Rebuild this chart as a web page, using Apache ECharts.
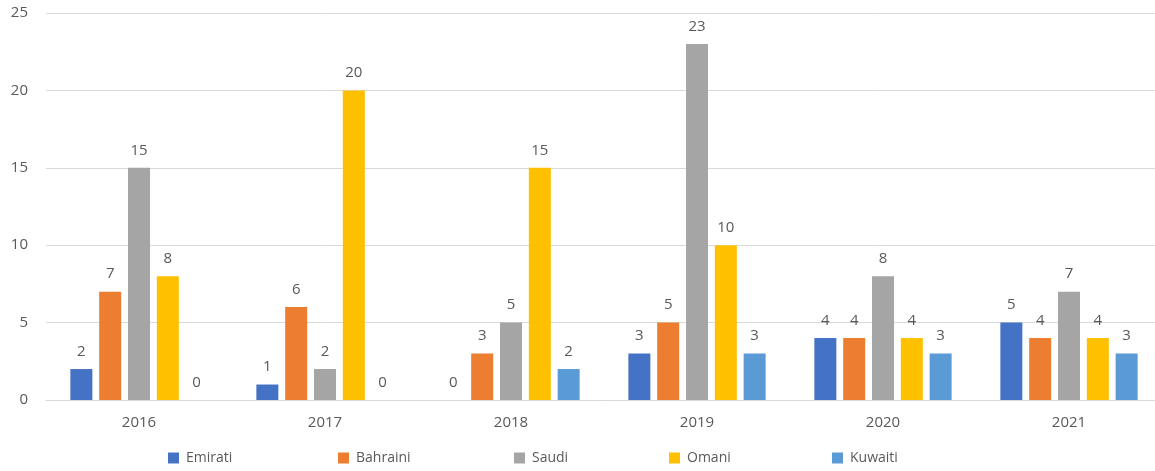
<!DOCTYPE html>
<html>
<head>
<meta charset="utf-8">
<script src="https://cdn.jsdelivr.net/npm/echarts@6/dist/echarts.min.js"></script>
<style>
html,body{margin:0;padding:0;background:#fff;overflow:hidden;}
#chart{width:1155px;height:471px;}
</style>
</head>
<body>
<div id="chart"></div>
<script>
const categories = ['2016', '2017', '2018', '2019', '2020', '2021'];
const seriesNames = ['Emirati', 'Bahraini', 'Saudi', 'Omani', 'Kuwaiti'];
const emirati  = [2, 1, 0, 3, 4, 5];
const bahraini = [7, 6, 3, 5, 4, 4];
const saudi    = [15, 2, 5, 23, 8, 7];
const omani    = [8, 20, 15, 10, 4, 4];
const kuwaiti  = [0, 0, 2, 3, 3, 3];
const yTicks = [0, 5, 10, 15, 20, 25];

const values = [emirati, bahraini, saudi, omani, kuwaiti];
const colors = ['#4472C4', '#ED7D31', '#A5A5A5', '#FFC000', '#5B9BD5'];
const legendLeft = [168, 338, 514, 669, 832];
const FONT = '"Open Sans", "Noto Sans", sans-serif';
const TXT = '#595959';

const chart = echarts.init(document.getElementById('chart'));
chart.setOption({
  animation: false,
  textStyle: { fontFamily: FONT },
  grid: { left: 46, top: 13, width: 1116, height: 387, containLabel: false, outerBoundsMode: 'none' },
  legend: seriesNames.map((n, i) => ({
    data: [n],
    left: legendLeft[i],
    top: 451,
    padding: 0,
    itemWidth: 11,
    itemHeight: 11,
    itemGap: 0,
    icon: 'rect',
    textStyle: { color: TXT, fontSize: 14, fontFamily: FONT, padding: [0, 0, 0, 2] }
  })),
  xAxis: {
    type: 'category',
    data: categories,
    axisLine: { lineStyle: { color: '#d9d9d9', width: 1 } },
    axisTick: { show: false },
    axisLabel: { color: TXT, fontSize: 15, margin: 15, fontFamily: FONT }
  },
  yAxis: {
    type: 'value',
    min: yTicks[0],
    max: yTicks[yTicks.length - 1],
    interval: 5,
    axisLine: { show: false },
    axisTick: { show: false },
    splitLine: { lineStyle: { color: '#d9d9d9', width: 1 } },
    axisLabel: { color: TXT, fontSize: 15, margin: 18, fontFamily: FONT }
  },
  series: seriesNames.map((n, i) => ({
    name: n,
    type: 'bar',
    data: values[i],
    barWidth: 22,
    barGap: '31%',
    itemStyle: { color: colors[i] },
    label: {
      show: true,
      position: 'top',
      distance: 10,
      color: TXT,
      fontSize: 15,
      fontFamily: FONT
    }
  }))
});
</script>
</body>
</html>
